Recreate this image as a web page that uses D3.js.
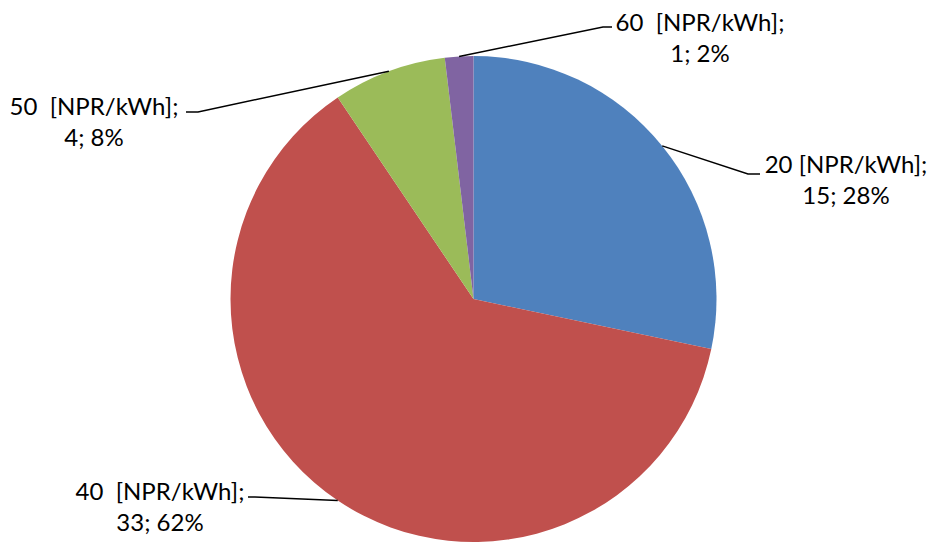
<!DOCTYPE html>
<html>
<head>
<style>
  body { margin: 0; background: #fff; }
  .lbl { font-family: Lato, "Open Sans", sans-serif; font-size: 24px; fill: #000; white-space: pre; }
</style>
<script src="https://d3js.org/d3.v7.min.js"></script>
</head>
<body>
<svg id="pie" width="930" height="542"></svg>
<script>
// slice data
const prices = ["20 [NPR/kWh];", "40  [NPR/kWh];", "50  [NPR/kWh];", "60  [NPR/kWh];"];
const counts = [15, 33, 4, 1];
const shares = ["28%", "62%", "8%", "2%"];
const colors = ["#4F81BD", "#C0504D", "#9BBB59", "#8064A2"];

// where each label sits (centre x, first baseline) and where its leader line bends
const labelPos = [
  {x: 846, y: 173, elbow: [748, 174], end: [760, 174]},
  {x: 160, y: 500, elbow: [255, 497], end: [248, 497]},
  {x: 94,  y: 115, elbow: [198, 112], end: [186, 112]},
  {x: 700, y: 31,  elbow: [603, 27],  end: [612, 27]}
];

const svg = d3.select("svg#pie");
const cx = 473.5, cy = 299, radius = 243;

const pie = d3.pie().sort(null).value(d => d);
const arcs = pie(counts);
const arc = d3.arc().innerRadius(0).outerRadius(radius);

const g = svg.append("g").attr("transform", "translate(" + cx + "," + cy + ")");

g.selectAll("path.slice")
  .data(arcs)
  .enter().append("path")
  .attr("class", "slice")
  .attr("d", arc)
  .attr("fill", (d, i) => colors[i]);

// leader lines start on the rim at each slice's mid angle
let leaders = svg.append("g");
arcs.forEach((d, i) => {
  const a = (d.startAngle + d.endAngle) / 2;
  const sx = cx + radius * Math.sin(a);
  const sy = cy - radius * Math.cos(a);
  const p = labelPos[i];
  leaders.append("polyline")
    .attr("points", [[sx, sy], p.elbow, p.end].map(q => q.join(",")).join(" "))
    .attr("fill", "none")
    .attr("stroke", "#000")
    .attr("stroke-width", 1.5);
});

let labels = svg.append("g");
arcs.forEach((d, i) => {
  const p = labelPos[i];
  let t = labels.append("text")
    .attr("class", "lbl")
    .attr("text-anchor", "middle");
  t.append("tspan").attr("x", p.x).attr("y", p.y).text(prices[i]);
  t.append("tspan").attr("x", p.x).attr("y", p.y + 31).text(counts[i] + "; " + shares[i]);
});
</script>
</body>
</html>
